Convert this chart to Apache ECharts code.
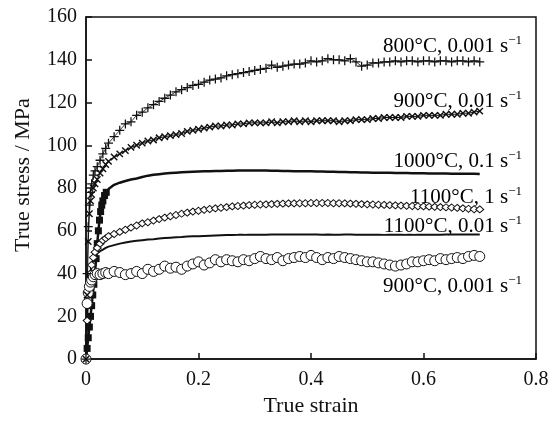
<!DOCTYPE html>
<html>
<head>
<meta charset="utf-8">
<script src="https://cdn.jsdelivr.net/npm/echarts@6/dist/echarts.min.js"></script>
<style>
  html, body { margin: 0; padding: 0; background: #fff; }
  #chart { width: 553px; height: 422px; }
</style>
</head>
<body>
<div id="chart"></div>
<script>
// true strain grid shared by most curves
var strain = [0, 0.002, 0.004, 0.006, 0.008, 0.01, 0.013, 0.016, 0.02, 0.025, 0.03, 0.035,
  0.04, 0.05, 0.06, 0.07, 0.08, 0.09, 0.10,
  0.11, 0.12, 0.13, 0.14, 0.15, 0.16, 0.17, 0.18, 0.19, 0.20,
  0.21, 0.22, 0.23, 0.24, 0.25, 0.26, 0.27, 0.28, 0.29, 0.30,
  0.31, 0.32, 0.33, 0.34, 0.35, 0.36, 0.37, 0.38, 0.39, 0.40,
  0.41, 0.42, 0.43, 0.44, 0.45, 0.46, 0.47, 0.48, 0.49, 0.50,
  0.51, 0.52, 0.53, 0.54, 0.55, 0.56, 0.57, 0.58, 0.59, 0.60,
  0.61, 0.62, 0.63, 0.64, 0.65, 0.66, 0.67, 0.68, 0.69, 0.70];

// the 1000°C curve is sampled more finely in its steep start
var strain1000 = [0, 0.002, 0.004, 0.006, 0.008, 0.01, 0.012, 0.014, 0.016, 0.018,
  0.02, 0.022, 0.024, 0.026, 0.028, 0.03, 0.033, 0.036,
  0.04, 0.05, 0.06, 0.07, 0.08, 0.09, 0.10,
  0.11, 0.12, 0.13, 0.14, 0.15, 0.16, 0.17, 0.18, 0.19, 0.20,
  0.21, 0.22, 0.23, 0.24, 0.25, 0.26, 0.27, 0.28, 0.29, 0.30,
  0.31, 0.32, 0.33, 0.34, 0.35, 0.36, 0.37, 0.38, 0.39, 0.40,
  0.41, 0.42, 0.43, 0.44, 0.45, 0.46, 0.47, 0.48, 0.49, 0.50,
  0.51, 0.52, 0.53, 0.54, 0.55, 0.56, 0.57, 0.58, 0.59, 0.60,
  0.61, 0.62, 0.63, 0.64, 0.65, 0.66, 0.67, 0.68, 0.69, 0.70];

// true stress (MPa)
var s800_0001 = [0, 40, 62, 72, 78, 82, 86, 88, 90, 93, 96, 98.5,
  101, 104, 107, 110, 111, 114, 115.5,
  117.5, 119, 120.5, 122, 123.5, 125, 126, 127, 128, 128.5,
  129.5, 130.5, 131, 131.5, 132.5, 133, 133.5, 134, 134.5, 135,
  135.5, 136, 137.5, 136.5, 137, 137.5, 138, 138, 138.5, 139.5,
  139, 139.5, 140.5, 140, 140, 139.5, 140.5, 139, 137, 137.5,
  138.5, 138.5, 139, 139, 139.5, 139, 139.5, 139.5, 139, 139.5,
  139.5, 139, 139.5, 139.5, 139, 139.5, 139.5, 139, 139.5, 139];

var s900_001 = [0, 30, 55, 68, 74, 77, 80, 82, 84, 87, 89, 91,
  92.5, 94.5, 96, 97.5, 99, 100, 101,
  102, 102.5, 103.5, 104, 104.5, 105, 105.5, 106.5, 107, 107.5,
  108, 108.5, 109, 109, 109.5, 109.5, 110, 110, 110.5, 110.5,
  110.5, 110.5, 111, 110.5, 111, 111, 111.5, 111, 111.5, 111,
  111.5, 111.5, 111.5, 111.5, 111, 111.5, 111.5, 112, 112, 112,
  112.5, 112.5, 113, 113, 113, 113, 113.5, 113.5, 113.5, 114,
  114, 114, 114, 114.5, 114.5, 114.5, 115, 115, 115.5, 116];

var s1000_01 = [0, 5, 10, 15, 20, 25, 30, 35, 40, 47,
  54, 60, 65, 69, 72, 74, 76.5, 78,
  79.5, 81.5, 82.5, 83.3, 84, 84.5, 85.2,
  85.8, 86.2, 86.5, 86.8, 87, 87.2, 87.4, 87.5, 87.6, 87.7,
  87.8, 87.9, 88, 88, 88.1, 88.1, 88.2, 88.2, 88.2, 88.2,
  88.2, 88.2, 88.1, 88.1, 88, 88, 87.9, 87.9, 87.8, 87.8,
  87.7, 87.7, 87.6, 87.6, 87.5, 87.5, 87.4, 87.4, 87.3, 87.3,
  87.2, 87.2, 87.1, 87.1, 87, 87, 87, 86.9, 86.9, 86.9,
  86.8, 86.8, 86.8, 86.8, 86.7, 86.7, 86.7, 86.7, 86.7, 86.6];

var s1100_1 = [0, 18, 28, 35, 40, 44, 47.5, 50, 52, 54, 55.5, 56.5,
  57.5, 58.5, 59.5, 60.5, 61.5, 62.5, 63.5,
  64, 64.8, 65.5, 66.2, 66.8, 67.4, 68, 68.5, 69, 69.4,
  69.8, 70.2, 70.5, 70.8, 71.1, 71.4, 71.6, 71.8, 72, 72.2,
  72.3, 72.4, 72.5, 72.6, 72.7, 72.8, 72.8, 72.9, 72.9, 73,
  73, 73, 73, 72.9, 72.9, 72.8, 72.7, 72.6, 72.5, 72.4,
  72.3, 72.2, 72.1, 72, 71.9, 71.8, 71.7, 71.6, 71.5, 71.4,
  71.3, 71.2, 71.1, 71, 70.9, 70.7, 70.5, 70.3, 70.1, 70];

var s1100_001 = [0, 20, 30, 37, 41, 44, 46.5, 48, 49.5, 50.5, 51.2, 52,
  52.6, 53.3, 54, 54.5, 55, 55.3, 55.6,
  55.9, 56.1, 56.4, 56.6, 56.8, 57, 57.1, 57.3, 57.4, 57.5,
  57.6, 57.7, 57.8, 57.9, 58, 58, 58.1, 58.1, 58.2, 58.2,
  58.2, 58.2, 58.3, 58.3, 58.3, 58.3, 58.3, 58.3, 58.3, 58.3,
  58.3, 58.2, 58.3, 58.2, 58.2, 58.3, 58.3, 58.2, 58.2, 58.2,
  58.2, 58.2, 58.1, 58.2, 58.2, 58.2, 58.1, 58.1, 58.2, 58.2,
  58.2, 58.2, 58.2, 58.3, 58.3, 58.3, 58.3, 58.3, 58.3, 58.3];

var s900_0001 = [0, 26, 31, 34, 36, 37, 38.5, 39.5, 40, 39.5, 40, 40.5,
  40, 41, 40.5, 39.5, 40, 41, 40,
  42, 41, 42, 43.5, 42.5, 43, 42, 43.5, 44.5, 45.5,
  44, 45, 46.5, 45.5, 46.5, 46, 45.5, 46.5, 46, 47,
  48, 47, 46.5, 47.5, 46, 47, 47.5, 48, 47.5, 48.5,
  47.5, 46.5, 47.5, 47, 48, 47.5, 47, 46.5, 46, 45.5,
  45.5, 45, 44.5, 44, 43.5, 44, 44.5, 45.5, 45.5, 46,
  46.5, 46, 47, 46.5, 47, 47.5, 47, 48, 48.5, 48];

var curveLabels = [
  ['800°C, 0.001 s', 46],
  ['900°C, 0.01 s', 101],
  ['1000°C, 0.1 s', 161],
  ['1100°C, 1 s', 197],
  ['1100°C, 0.01 s', 226],
  ['900°C, 0.001 s', 286]
];

var font = 'Liberation Serif';
var plusPath = 'path://M0,4.3H10V5.7H0Z M4.3,0H5.7V10H4.3Z';
var crossPath = 'path://M0,4.2H10V5.8H0Z M4.2,0H5.8V10H4.2Z';

function pairs(xs, ys) {
  return xs.map(function (x, i) { return [x, ys[i]]; });
}

var chart = echarts.init(document.getElementById('chart'));

var option = {
  animation: false,
  backgroundColor: '#fff',
  grid: {
    left: 86, right: 17, top: 17, bottom: 58,
    show: true, borderColor: '#111', borderWidth: 1.5
  },
  xAxis: {
    type: 'value', min: 0, max: 0.8, interval: 0.2,
    name: 'True strain', nameLocation: 'middle', nameGap: 34,
    nameTextStyle: { fontFamily: font, fontSize: 22, color: '#111' },
    axisLine: { lineStyle: { color: '#111', width: 1.5 } },
    axisTick: { inside: true, length: 6, lineStyle: { color: '#111', width: 1.5 } },
    axisLabel: { fontFamily: font, fontSize: 20, color: '#111', margin: 11 },
    splitLine: { show: false }
  },
  yAxis: {
    type: 'value', min: 0, max: 160, interval: 20,
    name: 'True stress / MPa', nameLocation: 'middle', nameGap: 52,
    nameTextStyle: { fontFamily: font, fontSize: 22, color: '#111', padding: [0, 0, 0, 26] },
    axisLine: { lineStyle: { color: '#111', width: 1.5 } },
    axisTick: { inside: true, length: 6, lineStyle: { color: '#111', width: 1.5 } },
    axisLabel: { fontFamily: font, fontSize: 20, color: '#111', margin: 9 },
    splitLine: { show: false }
  },
  series: [
    {
      type: 'line', data: pairs(strain1000, s1000_01).map(function (p, i) {
        return i < 18 ? { value: p } : { value: p, symbol: 'none' };
      }),
      symbol: 'rect', symbolSize: 7,
      itemStyle: { color: '#111' },
      lineStyle: { color: '#111', width: 2.5 }
    },
    {
      type: 'line', data: pairs(strain, s1100_001), symbol: 'none',
      lineStyle: { color: '#111', width: 2 }
    },
    {
      type: 'line', data: pairs(strain, s1100_1), showAllSymbol: true,
      symbol: 'diamond', symbolSize: [8, 7],
      itemStyle: { color: '#fff', borderColor: '#111', borderWidth: 1 },
      lineStyle: { color: '#111', width: 0.8 }
    },
    {
      type: 'line', data: pairs(strain, s900_0001), showAllSymbol: true,
      symbol: 'circle', symbolSize: 10,
      itemStyle: { color: '#fff', borderColor: '#111', borderWidth: 1 },
      lineStyle: { color: '#111', width: 0.6 }
    },
    {
      type: 'line', data: pairs(strain, s900_001), showAllSymbol: true,
      symbol: crossPath, symbolSize: 9, symbolRotate: 45,
      itemStyle: { color: '#111' },
      lineStyle: { color: '#111', width: 1 }
    },
    {
      type: 'line', data: pairs(strain, s800_0001), showAllSymbol: true,
      symbol: plusPath, symbolSize: 9,
      itemStyle: { color: '#111' },
      lineStyle: { color: '#111', width: 0.8 }
    }
  ],
  graphic: curveLabels.map(function (l) {
    return {
      type: 'text', right: 31, top: l[1] - 12,
      style: {
        text: '{a|' + l[0] + '}{b|−1}',
        rich: {
          a: { fontFamily: font, fontSize: 21, color: '#111', lineHeight: 24 },
          b: { fontFamily: font, fontSize: 13, color: '#111', lineHeight: 13, verticalAlign: 'top' }
        }
      }
    };
  })
};

chart.setOption(option);
</script>
</body>
</html>
